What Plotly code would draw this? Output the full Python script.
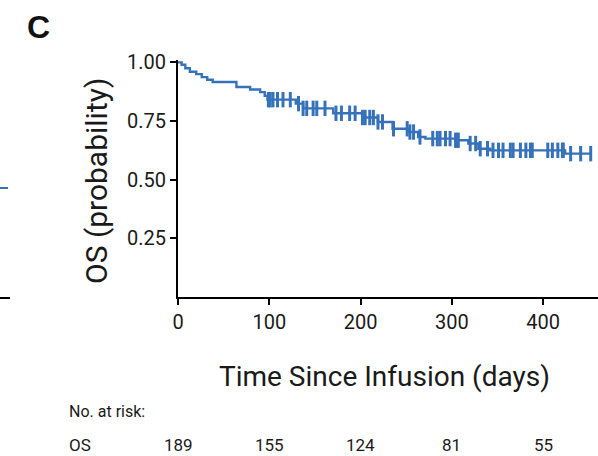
import numpy as np
import plotly.graph_objects as go

# Kaplan-Meier step data (days, survival probability)
event_days = [0, 4, 8, 13, 20, 26, 32, 38, 64, 79, 90, 95, 98, 129, 137, 170, 202, 219, 235, 252, 263, 271, 304, 318, 329, 342, 424]
surv_vals = [1.0, 0.99, 0.975, 0.96, 0.95, 0.937, 0.926, 0.916, 0.895, 0.884, 0.873, 0.857, 0.841, 0.824, 0.804, 0.783, 0.765, 0.746, 0.717, 0.703, 0.682, 0.675, 0.668, 0.654, 0.632, 0.625, 0.611]
end_day = 452

# censored observations (days)
censor_days = [99, 101, 104, 109, 115, 123, 132, 137, 141, 148, 152, 161, 173, 179, 188, 194, 202, 205,
               210, 214, 219, 224, 236, 251, 254, 258, 265, 279, 284, 287, 293, 298, 304, 307, 320,
               326, 331, 339, 345, 351, 356, 364, 367, 375, 381, 386, 388, 405, 410, 416, 421, 422,
               430, 441, 452]

xticks = [0, 100, 200, 300, 400]
yticks = [0.25, 0.5, 0.75, 1.0]
ytick_labels = ["0.25", "0.50", "0.75", "1.00"]
at_risk = [189, 155, 124, 81, 55]

color = "#3672ba"
font_family = "Roboto, sans-serif"
txt = "#1a1a1a"

x_line = event_days + [end_day]
y_line = surv_vals + [surv_vals[-1]]

ev = np.array(event_days)
sv = np.array(surv_vals)
cens_y = [float(sv[np.searchsorted(ev, d, side="right") - 1]) for d in censor_days]

fig = go.Figure()
fig.add_trace(go.Scatter(x=x_line, y=y_line, mode="lines", line=dict(shape="hv", color=color, width=2.4),
                         showlegend=False, hoverinfo="skip"))
fig.add_trace(go.Scatter(x=censor_days, y=cens_y, mode="markers",
                         marker=dict(symbol="line-ns-open", size=11, color=color,
                                     line=dict(color=color, width=3)),
                         showlegend=False, cliponaxis=False))

W, H = 598, 456
ml, mr, mt, mb = 178, 0, 60, 159

fig.update_layout(
    width=W, height=H,
    margin=dict(l=ml, r=mr, t=mt, b=mb),
    plot_bgcolor="white", paper_bgcolor="white",
    font=dict(family=font_family, color=txt),
    xaxis=dict(range=[0, 460], tickvals=xticks, ticks="outside", ticklen=6, tickwidth=2,
               tickcolor="black", showline=True, linecolor="black", linewidth=2,
               showgrid=False, zeroline=False, tickfont=dict(size=20, family=font_family, color=txt)),
    yaxis=dict(range=[0, 1.01], tickvals=yticks, ticktext=ytick_labels,
               ticks="outside", ticklen=6, tickwidth=2, tickcolor="black", showline=True,
               linecolor="black", linewidth=2, showgrid=False, zeroline=False,
               tickfont=dict(size=20, family=font_family, color=txt)),
)

pw = W - ml - mr
ph = H - mt - mb

def px2paper_x(px):
    return (px - ml) / pw

def px2paper_y(py):
    return (H - mb - py) / ph

common = dict(xref="paper", yref="paper", showarrow=False, yanchor="middle")
annotations = [
    dict(text="<b>C</b>", x=px2paper_x(38), y=px2paper_y(27), xanchor="center",
         font=dict(size=32, family="Liberation Sans, Arial, sans-serif", color="#111"), **common),
    dict(text="OS (probability)", x=px2paper_x(96), y=px2paper_y(181), xanchor="center",
         textangle=-90, font=dict(size=30, family=font_family, color=txt), **common),
    dict(text="Time Since Infusion (days)", x=px2paper_x(384), y=px2paper_y(376), xanchor="center",
         font=dict(size=28, family=font_family, color=txt), **common),
    dict(text="No. at risk:", x=px2paper_x(67), y=px2paper_y(411), xanchor="left",
         font=dict(size=16, family=font_family, color=txt), **common),
    dict(text="OS", x=px2paper_x(67), y=px2paper_y(445), xanchor="left",
         font=dict(size=17, family=font_family, color=txt), **common),
]
for xv, n in zip(xticks, at_risk):
    annotations.append(dict(text=str(n), x=xv, y=px2paper_y(445), xref="x", yref="paper",
                            xanchor="center", yanchor="middle", showarrow=False,
                            font=dict(size=17, family=font_family, color=txt)))
fig.update_layout(annotations=annotations)

# remnants of neighbouring panel at left edge
fig.add_shape(type="line", xref="paper", yref="paper", x0=px2paper_x(0), x1=px2paper_x(8),
              y0=px2paper_y(188), y1=px2paper_y(188), line=dict(color=color, width=2))
fig.add_shape(type="line", xref="paper", yref="paper", x0=px2paper_x(0), x1=px2paper_x(10),
              y0=px2paper_y(298), y1=px2paper_y(298), line=dict(color="black", width=2))

fig.write_html("out.html")
